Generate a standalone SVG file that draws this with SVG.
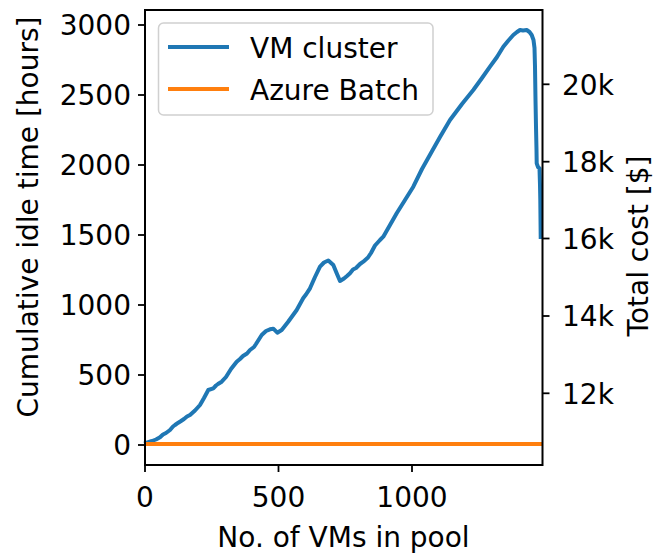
<svg xmlns="http://www.w3.org/2000/svg" width="654" height="553" viewBox="0 0 654 553">
<style>
text{font-family:"DejaVu Sans","Liberation Sans",sans-serif;font-size:28px;fill:#000}
.tick{stroke:#000;stroke-width:1.8}
.spine{fill:none;stroke:#000;stroke-width:2}
.vm{fill:none;stroke:#1f77b4;stroke-width:4;stroke-linejoin:round;stroke-linecap:square}
.az{fill:none;stroke:#ff7f0e;stroke-width:4}
.yl{text-anchor:end}
.xl{text-anchor:middle}
</style>
<rect width="654" height="553" fill="#fff"/>
<g id="series">
<path class="vm" d="M146,443 L152,441 L156,439.5 L160,437.3 L163,434.5 L166,433 L170,430 L173,426.5 L175,425 L178.3,422.7 L181,421 L184,419 L187,416.5 L190,415 L195,410.5 L200,405 L204,398 L208.3,390 L213.3,388.3 L216,385.5 L218,384 L221.7,381.7 L226,377 L231,369 L236.7,361.7 L240,359 L243,356 L247,353.5 L250,350 L254,347 L256,344 L261.7,335 L266,331 L270,329.3 L273.3,328.7 L277.3,332.7 L281.7,330 L288,322 L292,316.5 L296.7,310 L303.3,298 L306,294.5 L310,288.3 L315,277 L320,266.7 L324,262.5 L328.3,260.5 L333.3,265 L337,274 L340,281 L344,278.5 L347,276 L350,273.3 L353,269.5 L356,268 L360,264 L363.3,261.7 L368,257.5 L371,253 L375,245.5 L380,240 L383.3,236.7 L390,225 L396.7,213.3 L405,200 L413.3,186.7 L422,169 L431.7,151.7 L440,137 L450,120 L462,104 L473.3,90 L482,78 L490,66.7 L497,57 L503.3,46.7 L508,41 L513.3,35 L517,32 L520,30 L523,30.5 L526.7,30 L529.5,32 L531.7,35 L533.5,40 L534.5,48 L535,66.7 L535.5,100 L536,126.7 L536.5,150 L536.7,163.3 L538,167 L539.5,168.5 L540,185 L540.3,200 L540.7,237"/>
<path class="az" d="M145,444 L542.5,444"/>
</g>
<g id="axes">
<rect class="spine" x="145" y="10" width="397.5" height="455"/>
<g id="ytick-left">
<line class="tick" x1="138" y1="445" x2="145" y2="445"/>
<line class="tick" x1="138" y1="375" x2="145" y2="375"/>
<line class="tick" x1="138" y1="305" x2="145" y2="305"/>
<line class="tick" x1="138" y1="235" x2="145" y2="235"/>
<line class="tick" x1="138" y1="165" x2="145" y2="165"/>
<line class="tick" x1="138" y1="95" x2="145" y2="95"/>
<line class="tick" x1="138" y1="25" x2="145" y2="25"/>
<text class="yl" x="131" y="455">0</text>
<text class="yl" x="131" y="385">500</text>
<text class="yl" x="131" y="315">1000</text>
<text class="yl" x="131" y="245">1500</text>
<text class="yl" x="131" y="175">2000</text>
<text class="yl" x="131" y="105">2500</text>
<text class="yl" x="131" y="35">3000</text>
</g>
<g id="ytick-right">
<line class="tick" x1="542.5" y1="84.3" x2="549.5" y2="84.3"/>
<line class="tick" x1="542.5" y1="161.7" x2="549.5" y2="161.7"/>
<line class="tick" x1="542.5" y1="238.5" x2="549.5" y2="238.5"/>
<line class="tick" x1="542.5" y1="316" x2="549.5" y2="316"/>
<line class="tick" x1="542.5" y1="393.3" x2="549.5" y2="393.3"/>
<text x="562" y="94.5">20k</text>
<text x="562" y="172">18k</text>
<text x="562" y="248.5">16k</text>
<text x="562" y="326">14k</text>
<text x="562" y="403.5">12k</text>
</g>
<g id="xtick">
<line class="tick" x1="145" y1="465" x2="145" y2="472"/>
<line class="tick" x1="278.5" y1="465" x2="278.5" y2="472"/>
<line class="tick" x1="412" y1="465" x2="412" y2="472"/>
<text class="xl" x="145" y="507">0</text>
<text class="xl" x="278.5" y="507">500</text>
<text class="xl" x="412" y="507">1000</text>
</g>
<text class="xl" x="343.5" y="547">No. of VMs in pool</text>
<text class="xl" transform="translate(38,217) rotate(-90)">Cumulative idle time [hours]</text>
<text class="xl" transform="translate(648,246) rotate(-90)">Total cost [$]</text>
</g>
<g id="legend">
<rect x="158.5" y="23" width="274.5" height="92" rx="5" ry="5" fill="#fff" fill-opacity="0.8" stroke="#d0d0d0" stroke-width="1.5"/>
<line x1="168" y1="47" x2="229" y2="47" stroke="#1f77b4" stroke-width="4"/>
<line x1="168" y1="89" x2="229" y2="89" stroke="#ff7f0e" stroke-width="4"/>
<text x="250" y="57.5">VM cluster</text>
<text x="250" y="99.5">Azure Batch</text>
</g>
</svg>
